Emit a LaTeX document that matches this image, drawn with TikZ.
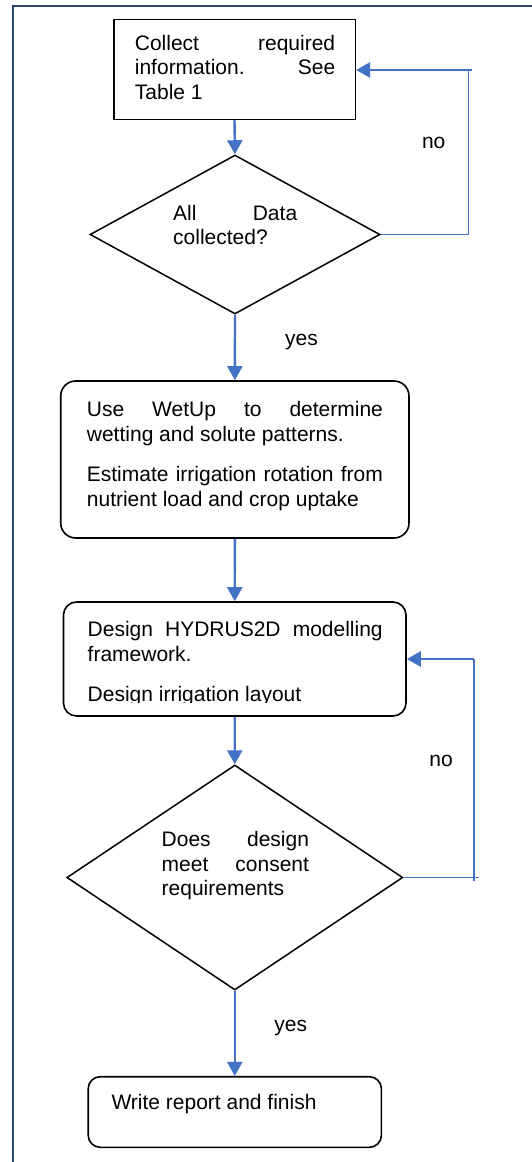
\documentclass[tikz,border=0pt]{standalone}
\usepackage{fontspec}
\setmainfont{Liberation Sans}
\usetikzlibrary{shapes.geometric,arrows.meta}
\definecolor{flowblue}{HTML}{4472C4}
\definecolor{framenavy}{HTML}{2E4672}
\newcommand\flowfont{\fontsize{21pt}{24.6pt}\selectfont}
\tolerance=9999
\hyphenpenalty=10000
\exhyphenpenalty=10000
\hbadness=10000
\begin{document}
\begin{tikzpicture}[x=1pt,y=-1pt,
  box/.style={draw=black, line width=1.6pt, inner sep=0pt, rectangle},
  rbox/.style={box, rounded corners=#1},
  dec/.style={draw=black, line width=1.5pt, diamond, inner sep=0pt},
  txt/.style={anchor=base west, inner sep=0pt, font=\flowfont, text width=#1, align=justify},
  lbl/.style={anchor=base west, inner sep=0pt, font=\flowfont},
  flow/.style={draw=flowblue, line width=2.4pt, -{Triangle[length=14pt,width=15pt]}},
  thinline/.style={draw=flowblue, line width=1.2pt},
]
\useasboundingbox (0,0) rectangle (532,1162);
\fill[white] (0,0) rectangle (532,1162);
% frame
\draw[framenavy, line width=2pt] (13,1175) -- (13,6) -- (545,6);

% shapes
\node[box, minimum width=241.6pt, minimum height=100pt] (b1) at (234.5,69.3) {};
\node[dec, minimum width=290pt, minimum height=159pt] (d1) at (235,234.5) {};
\node[rbox=15pt, minimum width=348.3pt, minimum height=157pt] (b2) at (234.85,459.5) {};
\node[rbox=13pt, minimum width=342.5pt, minimum height=114pt] (b3) at (234.75,659) {};
\node[dec, minimum width=336pt, minimum height=225pt] (d2) at (234.8,877.5) {};
\node[rbox=12pt, minimum width=293.2pt, minimum height=70.6pt] (b4) at (234.8,1112) {};

% texts
\node[txt=200.3pt] (t1) at (134.7,50) {Collect required\linebreak information. See\linebreak Table 1};
\node[txt=124pt] (t2) at (173,220) {All Data\linebreak collected?};
\node[txt=296pt] (t3) at (86.7,416.7) {Use WetUp to determine\linebreak wetting and solute patterns.\par\vspace{15.5pt}Estimate irrigation rotation from\linebreak nutrient load and crop uptake};
\begin{scope}
  \clip (60,600) rectangle (410,702.7);
  \node[txt=295pt] (t4) at (87.5,636.7) {Design HYDRUS2D modelling\linebreak framework.\par\vspace{15.5pt}Design irrigation layout};
\end{scope}
\node[txt=147.3pt] (t5) at (161.5,846.7) {Does design\linebreak meet consent\linebreak requirements};
\node[lbl] (t6) at (111.3,1109.3) {Write report and finish};

% labels
\node[lbl] (no1) at (421.8,148.3) {no};
\node[lbl] (yes1) at (285,345) {yes};
\node[lbl] (no2) at (429.2,766.7) {no};
\node[lbl] (yes2) at (274.2,1031) {yes};

% main flow
\draw[flow] (b1.south) -- (d1.north);
\draw[flow] (d1.south) -- (b2.north);
\draw[flow] (b2.south) -- (b3.north);
\draw[flow] (b3.south) -- (d2.north);
\draw[flow] (d2.south) -- (b4.north);

% loop 1
\coordinate (l1top) at (468.3,70);
\coordinate (l1end) at (471.7,70);
\draw[thinline] (d1.east) -| (l1top);
\draw[flow, line width=2.6pt] (l1end) -- (l1end -| b1.east);

% loop 2
\coordinate (l2top) at (474,659);
\coordinate (l2stub) at (474,881);
\coordinate (l2over) at (478.7,877.5);
\draw[thinline] (d2.east) -- (l2over);
\draw[thinline] (l2stub) -- (l2top);
\draw[flow, line width=2.6pt] (l2top) -- (l2top -| b3.east);
\end{tikzpicture}
\end{document}
